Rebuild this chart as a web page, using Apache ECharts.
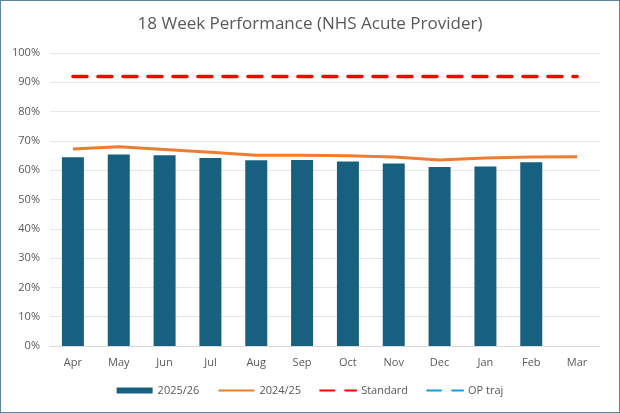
<!DOCTYPE html>
<html><head><meta charset="utf-8">
<script src="https://cdn.jsdelivr.net/npm/echarts@6/dist/echarts.min.js"></script>
<style>
html,body{margin:0;padding:0;background:#fff;}
#c{width:620px;height:413px;box-sizing:border-box;border:1.5px solid #5a86a0;}
</style></head>
<body><div id="c"></div>
<script>
const categories = ['Apr','May','Jun','Jul','Aug','Sep','Oct','Nov','Dec','Jan','Feb','Mar'];
const perf2526 = [0.644,0.654,0.651,0.642,0.634,0.635,0.630,0.623,0.611,0.613,0.627,null];
const perf2425 = [0.672,0.680,0.671,0.661,0.651,0.651,0.649,0.645,0.635,0.642,0.645,0.646];
const standard = [0.92,0.92,0.92,0.92,0.92,0.92,0.92,0.92,0.92,0.92,0.92,0.92];
const opTraj = [null,null,null,null,null,null,null,null,null,null,null,null];
const yTicks = [0,0.1,0.2,0.3,0.4,0.5,0.6,0.7,0.8,0.9,1.0];

const font = '"Open Sans", "Liberation Sans", sans-serif';
const chart = echarts.init(document.getElementById('c'), null, {renderer:'canvas'});
const hideSym = {opacity:0};
chart.setOption({
  animation:false,
  textStyle:{fontFamily:font},
  title:{text:'18 Week Performance (NHS Acute Provider)',left:'center',top:10,
    textStyle:{fontSize:17,fontWeight:'normal',color:'#595959',fontFamily:font}},
  grid:{left:49,right:19,top:52,bottom:66},
  legend:{bottom:11,left:'center',itemGap:18,itemWidth:36,itemHeight:6,
    textStyle:{color:'#595959',fontSize:11,fontFamily:font},
    data:[{name:'2025/26',icon:'rect'},{name:'2024/25',itemStyle:hideSym},{name:'Standard',itemStyle:hideSym},{name:'OP traj',itemStyle:hideSym}]},
  xAxis:{type:'category',data:categories,boundaryGap:true,
    axisLine:{lineStyle:{color:'#d9d9d9'}},axisTick:{show:false},
    axisLabel:{color:'#595959',fontSize:11,margin:11}},
  yAxis:{type:'value',min:yTicks[0],max:yTicks[yTicks.length-1],interval:0.1,
    axisLine:{show:false},axisTick:{show:false},
    splitLine:{lineStyle:{color:'#e6e6e6'}},
    axisLabel:{color:'#595959',fontSize:11,margin:10,formatter:v=>Math.round(v*100)+'%'}},
  series:[
    {name:'2025/26',type:'bar',data:perf2526,barWidth:'48%',itemStyle:{color:'#18607f'},z:2},
    {name:'2024/25',type:'line',data:perf2425,symbol:'none',lineStyle:{color:'#ED7D31',width:3},itemStyle:{color:'#ED7D31'},z:3},
    {name:'Standard',type:'line',data:standard,symbol:'none',lineStyle:{color:'#FF0000',width:3.5,type:[14,11],cap:'round'},itemStyle:{color:'#FF0000'},z:3},
    {name:'OP traj',type:'line',data:opTraj,symbol:'none',lineStyle:{color:'#14A0DC',width:3.5,type:[14,11],cap:'round'},itemStyle:{color:'#14A0DC'},z:3}
  ]
});
</script></body></html>
